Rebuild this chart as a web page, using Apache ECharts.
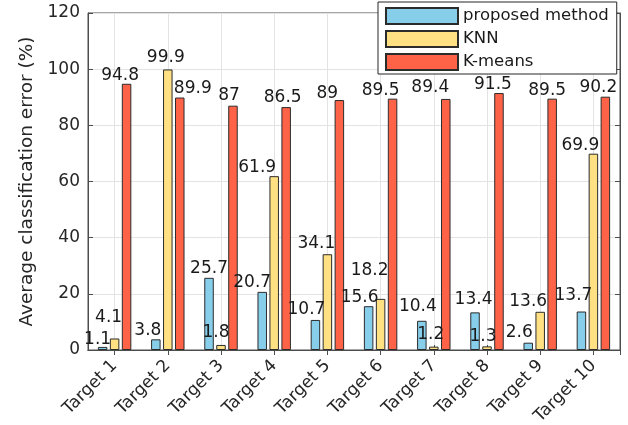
<!DOCTYPE html>
<html>
<head>
<meta charset="utf-8">
<script src="https://cdn.jsdelivr.net/npm/echarts@6/dist/echarts.min.js"></script>
<style>
html,body{margin:0;padding:0;background:#fff;}
#chart{width:628px;height:425px;}
</style>
</head>
<body>
<div id="chart"></div>
<script>
const categories = ['Target 1','Target 2','Target 3','Target 4','Target 5','Target 6','Target 7','Target 8','Target 9','Target 10'];
const seriesNames = ['proposed method','KNN','K-means'];
const proposed = [1.1, 3.8, 25.7, 20.7, 10.7, 15.6, 10.4, 13.4, 2.6, 13.7];
const knn = [4.1, 99.9, 1.8, 61.9, 34.1, 18.2, 1.2, 1.3, 13.6, 69.9];
const kmeans = [94.8, 89.9, 87, 86.5, 89, 89.5, 89.4, 91.5, 89.5, 90.2];
const yMin = 0, yMax = 120, yStep = 20;
const yAxisTitle = 'Average classification error (%)';

// label nudges (px) to mimic the hand-placed value labels of the original
const nudgeProposed = [[-5,1],[-8,-0.5],[0,-0.5],[-10,-1],[-9,-1.5],[-9,0],[-4,-6],[-1.5,-4],[-9,-2],[-8,-7]];
const nudgeKnn = [[-6,-12],[-2,-3],[-5,-4],[-17,0],[-11,-2.5],[-11,-20],[-3,-3.5],[-4,-1],[-12,-2],[-13,0]];
const nudgeKmeans = [[-6.5,0],[13,0],[-4,-1.5],[-3.5,-1.5],[-12,2],[-12,0],[-15.5,-2.5],[-6,0],[-5,0],[-7,-0.5]];

const FONT = 'DejaVu Sans';
const TXT = '#262626';
const AX = '#4d4d4d';
const colors = ['#87CEEB', '#FFE082', '#FF6347'];

function mkData(vals, nudges) {
  return vals.map((v, i) => ({ value: v, label: { offset: nudges[i] } }));
}
function mkSeries(name, vals, nudges, color) {
  return {
    name: name,
    type: 'bar',
    barWidth: 9.5,
    barGap: '26%',
    itemStyle: { color: color, borderColor: '#2b2b2b', borderWidth: 1 },
    label: {
      show: true, position: 'top', distance: 0,
      fontFamily: FONT, fontSize: 17, color: '#1a1a1a',
      formatter: (p) => String(p.value)
    },
    data: mkData(vals, nudges)
  };
}

const helperCats = [];
for (let i = 0; i < categories.length * 2; i++) helperCats.push('h' + i);

const chart = echarts.init(document.getElementById('chart'), null, { renderer: 'canvas' });
chart.setOption({
  animation: false,
  backgroundColor: '#fff',
  color: colors,
  grid: { left: 88, right: 8, top: 13, bottom: 75, containLabel: false, outerBoundsMode: 'none', show: true, borderColor: AX, borderWidth: 1, backgroundColor: 'transparent' },
  legend: {
    data: seriesNames,
    orient: 'vertical',
    left: 378, top: 2,
    padding: [5, 8, 3, 7],
    itemWidth: 72, itemHeight: 16, itemGap: 5,
    icon: 'rect',
    backgroundColor: '#fff',
    borderColor: '#262626', borderWidth: 1,
    textStyle: { fontFamily: FONT, fontSize: 16.5, color: '#1a1a1a' },
    z: 10
  },
  xAxis: [
    {
      type: 'category', data: categories, position: 'bottom',
      axisLine: { show: true, lineStyle: { color: AX } },
      axisTick: { show: true, alignWithLabel: true, inside: true, length: 5, lineStyle: { color: AX } },
      axisLabel: { rotate: 45, margin: 13, padding: [25, 0, 0, 0], fontFamily: FONT, fontSize: 17, color: TXT, interval: 0 },
      splitLine: { show: false }
    },
    {
      type: 'category', data: helperCats, position: 'top', gridIndex: 0,
      axisLine: { show: true, lineStyle: { color: AX } },
      axisTick: { show: true, inside: true, length: 5, interval: (i) => i % 2 === 1, lineStyle: { color: AX } },
      axisLabel: { show: false },
      splitLine: { show: true, interval: (i) => i % 2 === 1, lineStyle: { color: '#e3e3e3', width: 1 } }
    }
  ],
  yAxis: [
    {
      type: 'value', min: yMin, max: yMax, interval: yStep, position: 'left',
      name: yAxisTitle, nameLocation: 'middle', nameRotate: 90, nameGap: 51,
      nameTextStyle: { fontFamily: FONT, fontSize: 18.5, color: TXT },
      axisLine: { show: true, lineStyle: { color: AX } },
      axisTick: { show: true, inside: true, length: 5, lineStyle: { color: AX } },
      axisLabel: { fontFamily: FONT, fontSize: 17, color: TXT, margin: 8 },
      splitLine: { show: true, lineStyle: { color: '#e3e3e3', width: 1 } }
    },
    {
      type: 'value', min: yMin, max: yMax, interval: yStep, position: 'right',
      axisLine: { show: true, lineStyle: { color: AX } },
      axisTick: { show: true, inside: true, length: 5, lineStyle: { color: AX } },
      axisLabel: { show: false },
      splitLine: { show: false }
    }
  ],
  series: [
    mkSeries(seriesNames[0], proposed, nudgeProposed, colors[0]),
    mkSeries(seriesNames[1], knn, nudgeKnn, colors[1]),
    mkSeries(seriesNames[2], kmeans, nudgeKmeans, colors[2])
  ]
});
</script>
</body>
</html>
